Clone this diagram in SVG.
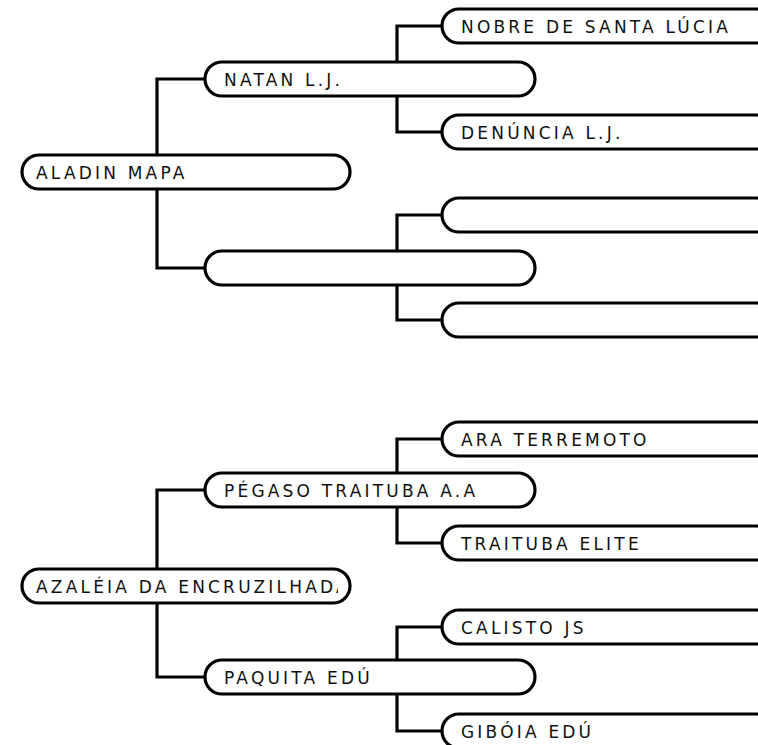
<svg xmlns="http://www.w3.org/2000/svg" width="758" height="745" viewBox="0 0 758 745">
<style>
.node rect{fill:#fff;stroke:#000;stroke-width:3.2}
.node text{font-family:"DejaVu Sans",Verdana,sans-serif;font-size:17px;letter-spacing:3.2px;fill:#111}
.conn path{fill:none;stroke:#000;stroke-width:3.2;stroke-linejoin:miter}
</style>
<defs>
<clipPath id="clipRoot2"><rect x="24" y="569" width="314" height="34"/></clipPath>
</defs>
<rect width="758" height="745" fill="#fff"/>
<g id="connectors" class="conn">
<path d="M205,79 H157 V268 H205"/>
<path d="M442,26 H397 V132 H442"/>
<path d="M442,215 H397 V320 H442"/>
<path d="M205,490 H157 V677 H205"/>
<path d="M442,439 H397 V543 H442"/>
<path d="M442,627 H397 V731 H442"/>
</g>
<g id="aladin" class="node"><rect x="22" y="155" width="328" height="34" rx="17"/><text x="36" y="179">ALADIN MAPA</text></g>
<g id="natan" class="node"><rect x="205" y="62" width="330" height="34" rx="17"/><text x="224" y="86">NATAN L.J.</text></g>
<g id="nobre" class="node"><rect x="442" y="9" width="332" height="34" rx="17"/><text x="461" y="33">NOBRE DE SANTA LÚCIA</text></g>
<g id="denuncia" class="node"><rect x="442" y="115" width="332" height="34" rx="17"/><text x="461" y="139">DENÚNCIA L.J.</text></g>
<g id="empty1" class="node"><rect x="205" y="251" width="330" height="34" rx="17"/></g>
<g id="empty1a" class="node"><rect x="442" y="198" width="332" height="34" rx="17"/></g>
<g id="empty1b" class="node"><rect x="442" y="303" width="332" height="34" rx="17"/></g>
<g id="azaleia" class="node"><rect x="22" y="569" width="328" height="34" rx="17"/><text x="36" y="593" clip-path="url(#clipRoot2)">AZALÉIA DA ENCRUZILHADA</text></g>
<g id="pegaso" class="node"><rect x="205" y="473" width="330" height="34" rx="17"/><text x="224" y="497">PÉGASO TRAITUBA A.A</text></g>
<g id="ara" class="node"><rect x="442" y="422" width="332" height="34" rx="17"/><text x="461" y="446">ARA TERREMOTO</text></g>
<g id="traituba" class="node"><rect x="442" y="526" width="332" height="34" rx="17"/><text x="461" y="550">TRAITUBA ELITE</text></g>
<g id="paquita" class="node"><rect x="205" y="660" width="330" height="34" rx="17"/><text x="224" y="684">PAQUITA EDÚ</text></g>
<g id="calisto" class="node"><rect x="442" y="610" width="332" height="34" rx="17"/><text x="461" y="634">CALISTO JS</text></g>
<g id="giboia" class="node"><rect x="442" y="714" width="332" height="34" rx="17"/><text x="461" y="738">GIBÓIA EDÚ</text></g>
</svg>
